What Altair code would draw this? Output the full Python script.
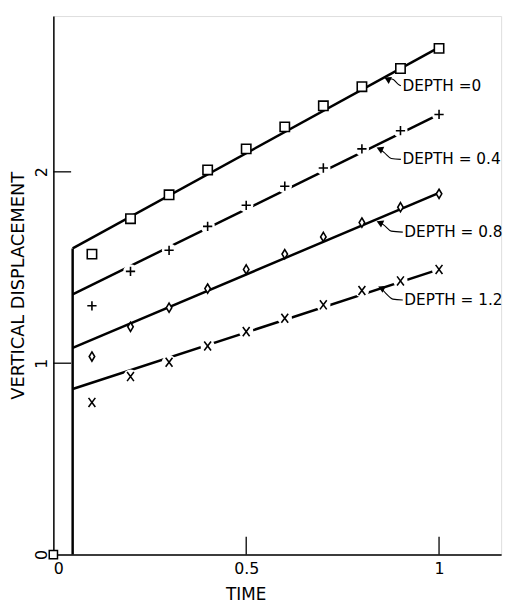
import altair as alt
import pandas as pd

# ---- data ----
DEPTHS = ["0", "0.4", "0.8", "1.2"]
TIMES = [0.1, 0.2, 0.3, 0.4, 0.5, 0.6, 0.7, 0.8, 0.9, 1.0]
DISP_D0 = [1.57, 1.755, 1.88, 2.01, 2.12, 2.235, 2.345, 2.445, 2.54, 2.645]
DISP_D04 = [1.30, 1.48, 1.59, 1.715, 1.825, 1.925, 2.02, 2.12, 2.215, 2.30]
DISP_D08 = [1.035, 1.19, 1.29, 1.39, 1.49, 1.57, 1.66, 1.735, 1.815, 1.885]
DISP_D12 = [0.795, 0.93, 1.005, 1.09, 1.165, 1.235, 1.305, 1.38, 1.43, 1.49]

FIT_T = [0.05, 1.0]
FIT_D0 = [1.60, 2.65]
FIT_D04 = [1.36, 2.30]
FIT_D08 = [1.08, 1.89]
FIT_D12 = [0.865, 1.49]

JUMP_T = [0.05]
JUMP_TOP = [1.60]
ORIGIN_T = [0.0]
ORIGIN_V = [0.0]

LABEL_TEXT = ["DEPTH =0", "DEPTH = 0.4", "DEPTH = 0.8", "DEPTH = 1.2"]
LABEL_T = [0.905, 0.905, 0.91, 0.91]
LABEL_V = [2.45, 2.065, 1.685, 1.33]
ARROW_T = [0.866, 0.846, 0.846, 0.85]
ARROW_V = [2.485, 2.12, 1.735, 1.393]

X_TICKS = [0.5, 1.0]
Y_TICKS = [1.0, 2.0]

W, H = 454, 546
X_DOMAIN = [0, 1.161]
Y_DOMAIN = [0, 2.814]

# ---- tables ----
series = {"0": DISP_D0, "0.4": DISP_D04, "0.8": DISP_D08, "1.2": DISP_D12}
fits = {"0": FIT_D0, "0.4": FIT_D04, "0.8": FIT_D08, "1.2": FIT_D12}

pts = pd.DataFrame([
    {"depth": d, "t": t, "v": v}
    for d in DEPTHS for t, v in zip(TIMES, series[d])
])
fit = pd.DataFrame([
    {"depth": d, "t": t, "v": v}
    for d in DEPTHS for t, v in zip(FIT_T, fits[d])
])
jump = pd.DataFrame({"t": JUMP_T, "v0": [0.0], "v1": JUMP_TOP})
origin = pd.DataFrame({"t": ORIGIN_T, "v": ORIGIN_V})

lead_rows = []
for i, d in enumerate(DEPTHS):
    lt, lv, at, av = LABEL_T[i], LABEL_V[i], ARROW_T[i], ARROW_V[i]
    path = [(at, av), (at + 0.012, lv + 0.035), (at + 0.03, lv + 0.005), (lt - 0.004, lv)]
    for k, (pt, pv) in enumerate(path):
        lead_rows.append({"depth": d, "k": k, "t": pt, "v": pv})
lead = pd.DataFrame(lead_rows)
labels = pd.DataFrame({"depth": DEPTHS, "text": LABEL_TEXT, "t": LABEL_T, "v": LABEL_V,
                       "at": ARROW_T, "av": ARROW_V})

xs = alt.Scale(domain=X_DOMAIN, nice=False, zero=False)
ys = alt.Scale(domain=Y_DOMAIN, nice=False, zero=False)
FONT = "DejaVu Sans"

x_axis = alt.Axis(values=[0, 0.5, 1], format="~g", ticks=False, grid=False,
                  domainColor="black", domainWidth=1.5, labelFont=FONT, labelFontSize=16,
                  labelColor="black", labelPadding=6, title="TIME", titleFont=FONT,
                  titleFontSize=17, titleFontWeight="normal", titleColor="black",
                  titleX=195, titleY=41, titleAnchor="middle", titleBaseline="middle")
y_axis = alt.Axis(values=[0, 1, 2], format="d", ticks=False, grid=False,
                  domainColor="black", domainWidth=1.5, labelFont=FONT, labelFontSize=16,
                  labelColor="black", labelAngle=270, labelPadding=4,
                  labelAlign="center", labelBaseline="bottom",
                  title="VERTICAL DISPLACEMENT", titleFont=FONT, titleFontSize=18,
                  titleFontWeight="normal", titleColor="black",
                  titleX=-35, titleY=H / 2, titleAngle=270, titleAlign="center",
                  titleBaseline="middle")

X = alt.X("t:Q", scale=xs, axis=x_axis)
Y = alt.Y("v:Q", scale=ys, axis=y_axis)

shape_scale = alt.Scale(domain=DEPTHS, range=[
    "square",
    "M-1,0H1M0,-1V1",
    "M0,-1L0.6,0L0,1L-0.6,0Z",
    "M-0.75,-1L0.75,1M-0.75,1L0.75,-1",
])
size_scale = alt.Scale(domain=DEPTHS, range=[90, 85, 150, 75])

fit_layer = alt.Chart(fit).mark_line(color="black", strokeWidth=2.5).encode(
    x=X, y=Y, detail="depth:N")

halo = alt.Chart(pts).transform_filter(
    alt.FieldOneOfPredicate(field="depth", oneOf=["0.4", "1.2"])
).transform_filter("datum.t > 0.15").mark_point(
    shape="circle", filled=True, color="white", opacity=1, size=210
).encode(x="t:Q", y="v:Q")

marks = alt.Chart(pts).mark_point(fill="white", filled=False, stroke="black",
                                  strokeWidth=1.6, opacity=1, fillOpacity=1).encode(
    x="t:Q", y="v:Q",
    shape=alt.Shape("depth:N", scale=shape_scale, legend=None),
    size=alt.Size("depth:N", scale=size_scale, legend=None),
)

jump_layer = alt.Chart(jump).mark_rule(color="black", strokeWidth=2.5).encode(
    x="t:Q", y="v0:Q", y2="v1:Q")

origin_layer = alt.Chart(origin).mark_point(shape="square", size=70, fill="white",
                                            stroke="black", strokeWidth=1.5,
                                            opacity=1, fillOpacity=1).encode(
    x="t:Q", y="v:Q")

lead_layer = alt.Chart(lead).mark_line(color="black", strokeWidth=1.1,
                                       interpolate="monotone").encode(
    x="t:Q", y="v:Q", detail="depth:N", order="k:Q")

arrow_layer = alt.Chart(labels).mark_point(shape="triangle-up", filled=True,
                                           color="black", size=60, angle=295,
                                           opacity=1).encode(
    x="at:Q", y="av:Q")

text_layer = alt.Chart(labels).mark_text(align="left", baseline="middle", font=FONT,
                                         fontSize=15.5, color="black").encode(
    x="t:Q", y="v:Q", text="text:N")

xt = pd.DataFrame({"t": X_TICKS})
yt = pd.DataFrame({"v": Y_TICKS})
xtick_layer = alt.Chart(xt).mark_rule(color="black", strokeWidth=1.3).encode(
    x="t:Q", y=alt.value(H), y2=alt.value(H - 18))
ytick_layer = alt.Chart(yt).mark_rule(color="black", strokeWidth=1.3).encode(
    y="v:Q", x=alt.value(0), x2=alt.value(18))

chart = alt.layer(
    fit_layer, halo, marks, jump_layer, origin_layer, lead_layer, arrow_layer,
    text_layer, xtick_layer, ytick_layer
).properties(
    width=W, height=H,
    autosize=alt.AutoSizeParams(type="none"),
    padding={"left": 46, "top": 4, "right": 10, "bottom": 50},
).configure_view(stroke=None).configure(background="white")

chart.save("out.html", embed_options={"renderer": "svg", "actions": False})
